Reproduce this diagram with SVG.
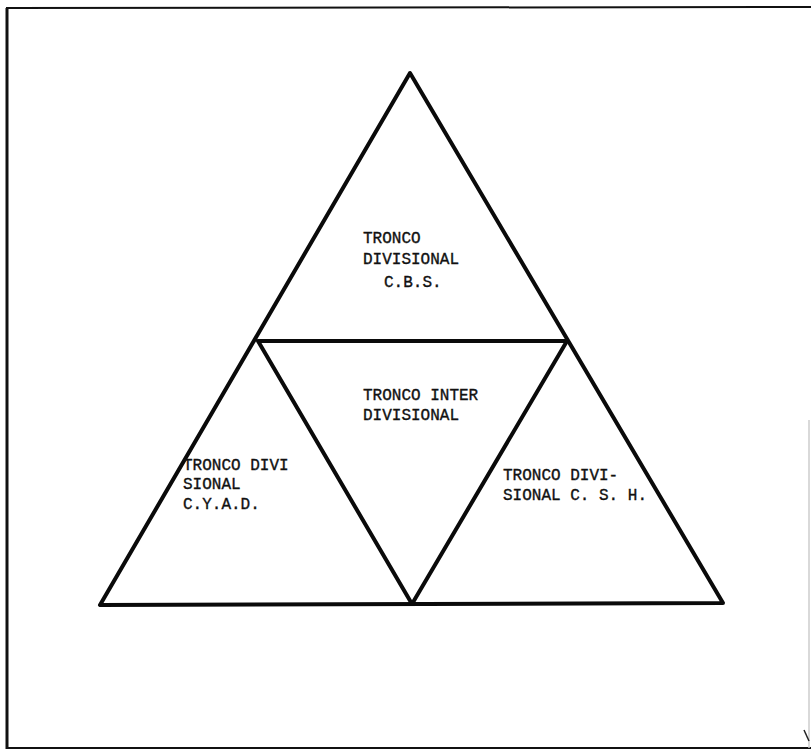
<svg xmlns="http://www.w3.org/2000/svg" width="811" height="751" viewBox="0 0 811 751">
<style>
.frame{stroke:#111;fill:none}
.tri{stroke:#0a0a0a;stroke-width:4;fill:none;stroke-linejoin:round;stroke-linecap:round}
.lbl{font-family:"Liberation Mono","Courier New",monospace;font-size:16px;fill:#111;stroke:#111;stroke-width:0.35}
</style>
<rect width="811" height="751" fill="#fff"/>
<g id="frame">
<line class="frame" x1="6" y1="8" x2="811" y2="7" stroke-width="2"/>
<line class="frame" x1="7" y1="8" x2="7" y2="749" stroke-width="3"/>
<line class="frame" x1="6" y1="748" x2="811" y2="748" stroke-width="2"/>
<line x1="809" y1="420" x2="809" y2="748" stroke="#ccc" stroke-width="1.5"/>
<line x1="804" y1="730" x2="809" y2="741" stroke="#222" stroke-width="1.5"/>
</g>
<g id="connectors">
<path class="tri" d="M410 73 L100 605 L723 603 Z"/>
<path class="tri" d="M258 341 L567 341 L412 604 Z"/>
</g>
<g id="node-cbs">
<text class="lbl" x="363" y="243">TRONCO</text>
<text class="lbl" x="363" y="264">DIVISIONAL</text>
<text class="lbl" x="384" y="287">C.B.S.</text>
</g>
<g id="node-inter">
<text class="lbl" x="363" y="400">TRONCO INTER</text>
<text class="lbl" x="363" y="420">DIVISIONAL</text>
</g>
<g id="node-cyad">
<text class="lbl" x="183" y="470">TRONCO DIVI</text>
<text class="lbl" x="183" y="489">SIONAL</text>
<text class="lbl" x="183" y="509">C.Y.A.D.</text>
</g>
<g id="node-csh">
<text class="lbl" x="503" y="480">TRONCO DIVI-</text>
<text class="lbl" x="503" y="500">SIONAL C. S. H.</text>
</g>
</svg>
